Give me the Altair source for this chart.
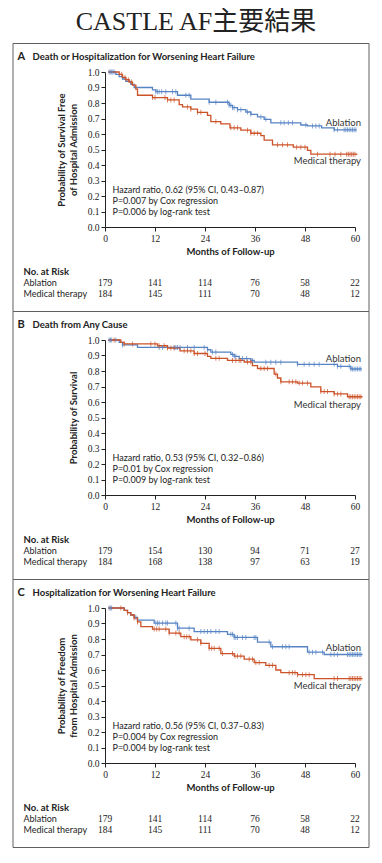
import altair as alt
import pandas as pd

BLUE = "#5683c4"
RED = "#cc5228"
INK = "#222222"
SANS = "Lato"
SERIF = "Liberation Serif"

GROUPS = ["Ablation", "Medical therapy"]
MONTH_TICKS = [0, 12, 24, 36, 48, 60]
Y_TICKS = [0.0, 0.1, 0.2, 0.3, 0.4, 0.5, 0.6, 0.7, 0.8, 0.9, 1.0]

# ---------------- Panel A ----------------
a_title = "Death or Hospitalization for Worsening Heart Failure"
a_ytitle = ["Probability of Survival Free", "of Hospital Admission"]
a_abl_t = [0.8, 2.6, 3.4, 4.2, 5.0, 6.2, 7.0, 11.4, 12.2, 17.4, 20.6, 25.0, 29.8, 30.6, 31.8, 33.8, 35.0, 36.6, 38.2, 39.8, 47.0, 48.6, 52.0, 55.0, 60.4]
a_abl_v = [1.0, 0.985, 0.97, 0.955, 0.94, 0.92, 0.9, 0.885, 0.873, 0.85, 0.825, 0.805, 0.785, 0.77, 0.757, 0.742, 0.727, 0.71, 0.695, 0.672, 0.658, 0.652, 0.64, 0.627, 0.627]
a_med_t = [0.8, 3.4, 4.2, 5.0, 5.8, 6.6, 7.4, 7.8, 11.4, 15.0, 17.8, 18.6, 20.6, 22.2, 24.6, 25.4, 27.8, 30.0, 32.6, 35.0, 37.4, 38.2, 40.2, 45.2, 48.6, 49.4, 60.4]
a_med_v = [1.0, 0.985, 0.965, 0.95, 0.935, 0.915, 0.89, 0.85, 0.835, 0.82, 0.79, 0.775, 0.76, 0.74, 0.72, 0.68, 0.665, 0.64, 0.625, 0.605, 0.59, 0.56, 0.53, 0.515, 0.495, 0.47, 0.465]
a_abl_cens = [1.0, 1.3, 1.6, 1.9, 2.2, 12.2, 12.6, 13.0, 13.6, 14.6, 16.2, 17.0, 19.4, 20.2, 25.0, 26.6, 29.4, 29.8, 30.2, 30.6, 31.0, 31.8, 32.6, 34.2, 35.0, 37.4, 38.6, 42.2, 43.0, 44.0, 45.0, 48.2, 49.8, 50.6, 51.4, 55.0, 55.8, 57.4, 57.8, 58.2, 58.6, 59.0, 59.4, 59.8, 60.2]
a_med_cens = [4.0, 4.8, 5.6, 6.4, 11.4, 12.0, 14.4, 15.0, 15.8, 16.6, 19.8, 20.6, 22.2, 23.0, 26.6, 30.2, 31.0, 31.8, 34.2, 35.0, 35.8, 36.6, 41.4, 42.6, 43.8, 46.0, 47.0, 48.0, 51.0, 54.0, 55.2, 56.6, 58.0, 58.4, 58.8, 59.2, 59.6, 60.0]
a_risk_abl = [179, 141, 114, 76, 58, 22]
a_risk_med = [184, 145, 111, 70, 48, 12]
a_hr = ["Hazard ratio, 0.62 (95% CI, 0.43\u20130.87)", "P=0.007 by Cox regression", "P=0.006 by log-rank test"]
a_label_v = [0.672, 0.427]

# ---------------- Panel B ----------------
b_title = "Death from Any Cause"
b_ytitle = "Probability of Survival"
b_abl_t = [0.8, 3.4, 4.2, 7.8, 24.6, 25.4, 30.2, 31.0, 32.2, 35.0, 35.8, 46.2, 55.8, 59.0, 61.6]
b_abl_v = [1.0, 0.985, 0.968, 0.952, 0.937, 0.922, 0.907, 0.895, 0.88, 0.868, 0.857, 0.843, 0.83, 0.813, 0.813]
b_med_t = [0.8, 3.8, 4.6, 12.6, 15.0, 18.0, 21.4, 24.6, 25.4, 29.4, 33.4, 35.4, 36.6, 40.6, 41.4, 42.2, 46.2, 49.4, 51.8, 55.0, 58.2, 61.8]
b_med_v = [1.0, 0.985, 0.975, 0.963, 0.948, 0.93, 0.913, 0.895, 0.882, 0.868, 0.858, 0.835, 0.816, 0.78, 0.755, 0.73, 0.722, 0.697, 0.667, 0.652, 0.634, 0.634]
b_abl_cens = [1.0, 1.3, 1.6, 2.6, 4.2, 13.0, 13.8, 16.6, 17.0, 17.4, 18.0, 19.8, 21.4, 23.8, 24.6, 25.8, 26.6, 30.6, 31.0, 31.4, 33.0, 34.0, 35.4, 38.6, 39.8, 41.0, 42.2, 46.2, 47.8, 49.0, 50.2, 51.4, 55.0, 55.8, 56.6, 58.6, 59.0, 59.4, 59.8, 60.2, 60.6, 61.0, 61.4]
b_med_cens = [2.2, 4.6, 6.6, 11.0, 12.0, 13.0, 14.2, 15.0, 15.8, 16.6, 19.0, 19.8, 20.6, 21.4, 22.2, 24.0, 26.6, 27.4, 30.6, 31.4, 32.2, 32.6, 34.2, 35.0, 37.4, 38.2, 39.0, 41.0, 42.2, 44.2, 45.0, 45.8, 46.6, 47.4, 48.6, 51.8, 52.6, 53.4, 55.0, 55.8, 56.6, 58.6, 59.0, 59.4, 59.8, 60.2, 60.6, 61.0, 61.4]
b_risk_abl = [179, 154, 130, 94, 71, 27]
b_risk_med = [184, 168, 138, 97, 63, 19]
b_hr = ["Hazard ratio, 0.53 (95% CI, 0.32\u20130.86)", "P=0.01 by Cox regression", "P=0.009 by log-rank test"]
b_label_v = [0.879, 0.578]

# ---------------- Panel C ----------------
c_title = "Hospitalization for Worsening Heart Failure"
c_ytitle = ["Probability of Freedom", "from Hospital Admission"]
c_abl_t = [0.8, 4.6, 5.4, 6.2, 7.0, 7.8, 11.8, 17.4, 21.4, 29.4, 31.0, 36.6, 39.8, 48.6, 52.6, 61.8]
c_abl_v = [1.0, 0.985, 0.97, 0.955, 0.94, 0.922, 0.903, 0.87, 0.848, 0.83, 0.81, 0.78, 0.75, 0.715, 0.70, 0.70]
c_med_t = [0.8, 4.6, 5.4, 6.2, 7.0, 7.8, 8.6, 11.4, 15.4, 18.2, 20.6, 23.0, 25.0, 27.8, 31.0, 33.4, 35.8, 38.6, 41.0, 42.2, 46.2, 50.2, 61.8]
c_med_v = [1.0, 0.985, 0.97, 0.955, 0.935, 0.91, 0.88, 0.864, 0.838, 0.815, 0.795, 0.772, 0.74, 0.706, 0.69, 0.67, 0.648, 0.63, 0.6, 0.583, 0.57, 0.545, 0.545]
c_abl_cens = [1.0, 1.3, 1.6, 7.4, 12.2, 12.6, 13.0, 13.8, 14.6, 15.0, 17.0, 17.4, 17.8, 20.2, 23.0, 23.8, 24.6, 25.4, 26.6, 27.4, 30.2, 30.6, 31.0, 31.4, 31.8, 33.0, 33.8, 35.8, 36.2, 39.4, 40.2, 42.6, 43.4, 44.2, 49.0, 49.8, 50.6, 52.2, 54.2, 55.0, 55.8, 58.2, 58.6, 59.0, 59.4, 59.8, 60.2, 60.6, 61.0, 61.4]
c_med_cens = [3.8, 5.4, 7.0, 7.8, 11.8, 12.4, 13.0, 14.6, 15.4, 17.0, 17.8, 19.0, 19.6, 20.2, 22.2, 23.0, 25.0, 25.6, 26.2, 27.4, 28.2, 30.6, 31.2, 31.8, 32.6, 34.6, 35.4, 36.2, 37.0, 39.4, 40.2, 44.2, 45.0, 45.6, 46.2, 47.4, 48.2, 49.0, 55.0, 55.8, 58.6, 59.0, 59.4, 59.8, 60.2, 60.6, 61.0, 61.4]
c_risk_abl = [179, 141, 114, 76, 58, 22]
c_risk_med = [184, 145, 111, 70, 48, 12]
c_hr = ["Hazard ratio, 0.56 (95% CI, 0.37\u20130.83)", "P=0.004 by Cox regression", "P=0.004 by log-rank test"]
c_label_v = [0.742, 0.495]


def step_value(ts, vs, t):
    val = vs[0]
    for ti, vi in zip(ts, vs):
        if ti <= t:
            val = vi
        else:
            break
    return val


def panel(letter, title, ytitle, abl_t, abl_v, med_t, med_v, abl_c, med_c,
          risk_abl, risk_med, hr, label_v):
    curves = pd.DataFrame(
        [{"t": t, "v": v, "grp": GROUPS[0]} for t, v in zip(abl_t, abl_v)]
        + [{"t": t, "v": v, "grp": GROUPS[1]} for t, v in zip(med_t, med_v)]
    )
    cens = pd.DataFrame(
        [{"t": t, "v": step_value(abl_t, abl_v, t), "grp": GROUPS[0]} for t in abl_c]
        + [{"t": t, "v": step_value(med_t, med_v, t), "grp": GROUPS[1]} for t in med_c]
    )
    labels = pd.DataFrame({"grp": GROUPS, "v": label_v})
    risk = pd.DataFrame(
        [{"t": m, "n": str(n), "row": 0} for m, n in zip(MONTH_TICKS, risk_abl)]
        + [{"t": m, "n": str(n), "row": 1} for m, n in zip(MONTH_TICKS, risk_med)]
    )

    x = alt.X("t:Q", scale=alt.Scale(domain=[0, 60], nice=False, zero=False),
              axis=alt.Axis(values=MONTH_TICKS, title="Months of Follow-up",
                            tickSize=4, labelPadding=2, titlePadding=4,
                            labelFlush=False, labelOverlap=False))
    y = alt.Y("v:Q", scale=alt.Scale(domain=[0, 1], nice=False),
              axis=alt.Axis(values=Y_TICKS, format=".1f", title=ytitle,
                            tickSize=4, labelPadding=2, titlePadding=9,
                            labelOverlap=False))
    color = alt.Color("grp:N", scale=alt.Scale(domain=GROUPS, range=[BLUE, RED]),
                      legend=None)

    one = pd.DataFrame({"k": [0]})
    box = alt.Chart(one).mark_rect(fillOpacity=0, stroke="#606060", strokeWidth=1).encode(
        x=alt.value(-92), x2=alt.value(264), y=alt.value(-28.5), y2=alt.value(239.5))

    lines = alt.Chart(curves).mark_line(interpolate="step-after", strokeWidth=1.3).encode(
        x=x, y=y, color=color, detail="grp:N")
    ticks = alt.Chart(cens).mark_tick(orient="vertical", size=5, thickness=1).encode(
        x=x, y=y, color=color)
    lab = alt.Chart(labels).mark_text(align="right", baseline="middle", font=SANS,
                                      fontSize=9.5, color="#333").encode(
        x=alt.value(256), y=y, text="grp:N")

    hr_txt = alt.Chart(one).mark_text(align="left", baseline="middle", font=SANS,
                                      fontSize=9, lineHeight=11.3, color=INK).encode(
        x=alt.value(7.5), y=alt.value(117.5), text=alt.value(hr))

    head_l = alt.Chart(one).mark_text(align="left", baseline="middle", font=SANS,
                                      fontSize=11, fontWeight="bold", color=INK).encode(
        x=alt.value(-87.5), y=alt.value(-15.5), text=alt.value(letter))
    head_t = alt.Chart(one).mark_text(align="left", baseline="middle", font=SANS,
                                      fontSize=9.5, fontWeight="bold", color=INK).encode(
        x=alt.value(-72.5), y=alt.value(-15.5), text=alt.value(title))

    risk_h = alt.Chart(one).mark_text(align="left", baseline="middle", font=SANS,
                                      fontSize=9.5, fontWeight="bold", color=INK).encode(
        x=alt.value(-81.5), y=alt.value(200), text=alt.value("No. at Risk"))
    risk_rl = alt.Chart(one).mark_text(align="left", baseline="middle", font=SANS,
                                       fontSize=9, lineHeight=11, color=INK).encode(
        x=alt.value(-81.5), y=alt.value(211), text=alt.value(GROUPS))
    risk_n0 = alt.Chart(risk).transform_filter("datum.row == 0").mark_text(
        align="center", baseline="middle", font=SERIF, fontSize=9.5, color=INK).encode(
        x=x, y=alt.value(211), text="n:N")
    risk_n1 = alt.Chart(risk).transform_filter("datum.row == 1").mark_text(
        align="center", baseline="middle", font=SERIF, fontSize=9.5, color=INK).encode(
        x=x, y=alt.value(222), text="n:N")

    return alt.layer(box, lines, ticks, lab, hr_txt, head_l, head_t,
                     risk_h, risk_rl, risk_n0, risk_n1).properties(width=250, height=155)


pA = panel("A", a_title, a_ytitle, a_abl_t, a_abl_v, a_med_t, a_med_v, a_abl_cens, a_med_cens,
           a_risk_abl, a_risk_med, a_hr, a_label_v)
pB = panel("B", b_title, b_ytitle, b_abl_t, b_abl_v, b_med_t, b_med_v, b_abl_cens, b_med_cens,
           b_risk_abl, b_risk_med, b_hr, b_label_v)
pC = panel("C", c_title, c_ytitle, c_abl_t, c_abl_v, c_med_t, c_med_v, c_abl_cens, c_med_cens,
           c_risk_abl, c_risk_med, c_hr, c_label_v)

chart = alt.vconcat(pA, pB, pC, spacing=-1).properties(
    title=alt.TitleParams("CASTLE AF主要結果", font="Liberation Serif, Noto Sans CJK JP",
                          fontSize=26, fontWeight="normal", color=INK, anchor="middle",
                          offset=8, dx=5),
    padding={"left": 4, "top": 1, "right": 4, "bottom": 4},
).configure_view(stroke=None).configure_axis(
    grid=False, domainColor=INK, tickColor=INK, labelFont=SERIF, labelFontSize=9.5,
    labelColor=INK, titleFont=SANS, titleFontSize=9.5, titleFontWeight="bold",
    titleColor=INK, domainWidth=1, tickWidth=1,
)

chart.save("out.html", embed_options={"renderer": "svg", "actions": False})
